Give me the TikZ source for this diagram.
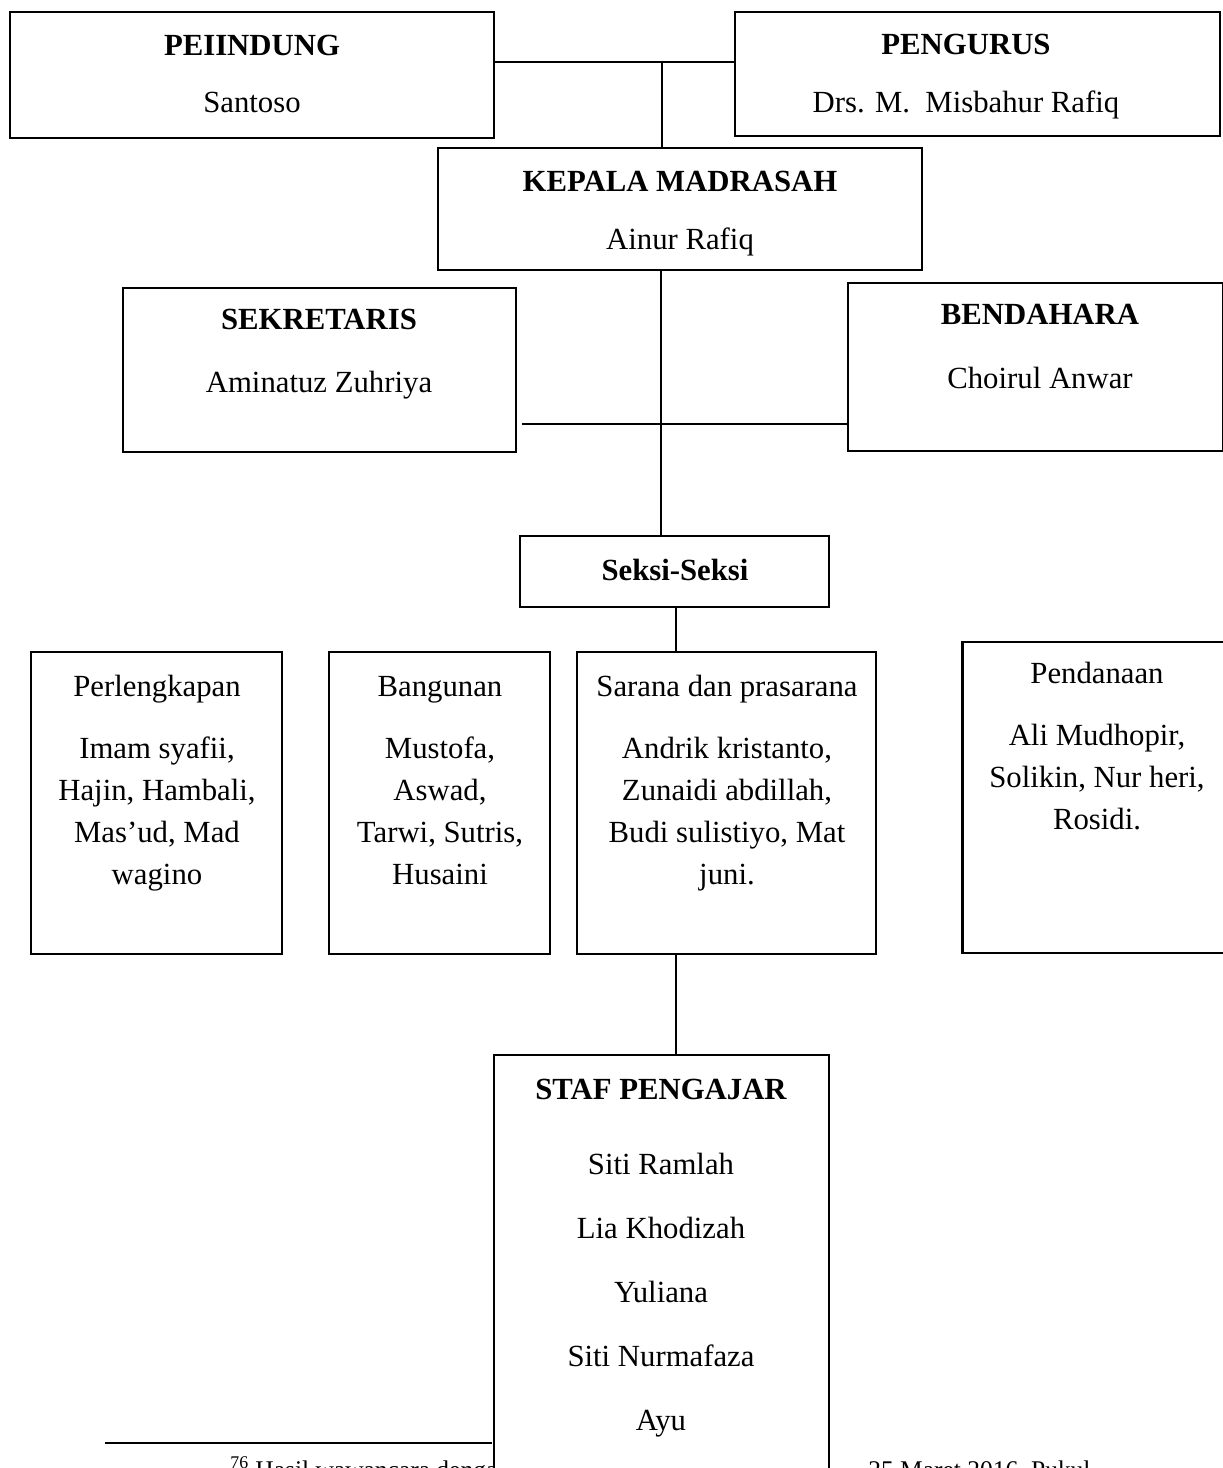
\documentclass[tikz,border=0pt]{standalone}
\usepackage{fontspec}
\setmainfont{Liberation Serif}
\usetikzlibrary{positioning,calc}

\begin{document}
\begin{tikzpicture}[x=0.02cm,y=-0.02cm]

  \tikzset{
    box/.style={draw,line width=1.4pt,fill=white,inner sep=0pt},
    nm/.style={font=\fontsize{17.5}{23.8}\selectfont,align=center,inner sep=0pt,anchor=base},
    hd/.style={nm,font=\fontsize{17.5}{23.8}\selectfont\bfseries},
    ln/.style={line width=0.6pt},
  }

   \clip (0,0) rectangle (1223,1468);

   % FOOTNOTE

   \coordinate (r1) at (105,1443);
   \coordinate (r2) at (492,1443);
   \draw[line width=1pt] (r1) -- (r2);
   \node[nm,anchor=base west,font=\fontsize{14.5}{17}\selectfont] (fn1) at (230,1478)
     {\textsuperscript{76} Hasil wawancara dengan};
   \node[nm,anchor=base west,font=\fontsize{14.5}{17}\selectfont] (fn2) at (868,1478)
     {25 Maret 2016, Pukul};

   % TOP

   \node[box,minimum width=9.68cm,minimum height=2.52cm] (pel) at (252,75) {};
   \node[hd] (pelhd) at (252,55) {PEIINDUNG};
   \node[nm] (pelnm) at (252,112) {Santoso};

   \node[box,minimum width=9.7cm,minimum height=2.48cm] (peng) at (977.5,74) {};
   \node[hd] (penghd) at (966,54) {PENGURUS};
   \node[nm] (pengnm) at (966,112) {Drs. M.\ \ Misbahur Rafiq};

   \node[box,minimum width=9.68cm,minimum height=2.44cm] (kep) at (680,209) {};
   \node[hd] (kephd) at (680,191) {KEPALA MADRASAH};
   \node[nm] (kepnm) at (680,249) {Ainur Rafiq};

   \coordinate (j1) at (662,62);
   \draw[ln] (j1 -| pel.east) -- (j1 -| peng.west);
   \draw[ln] (j1) -- (j1 |- kep.north);

   % SEKRETARIS / BENDAHARA

   \node[box,minimum width=7.86cm,minimum height=3.28cm] (sek) at (319.5,370) {};
   \node[hd] (sekhd) at (319,329) {SEKRETARIS};
   \node[nm] (seknm) at (319,392) {Aminatuz Zuhriya};

   \node[box,minimum width=7.5cm,minimum height=3.36cm] (ben) at (1035.5,367) {};
   \node[hd] (benhd) at (1040,324) {BENDAHARA};
   \node[nm] (bennm) at (1040,388) {Choirul Anwar};

   \node[box,minimum width=6.18cm,minimum height=1.42cm] (seksi) at (674.5,571.5) {};
   \node[hd] (seksihd) at (675,580) {Seksi-Seksi};

   \coordinate (j2) at (661,424);
   \draw[ln] (j2 |- kep.south) -- (j2 |- seksi.north);
   \draw[ln] ($(j2 -| sek.east)+(5,0)$) -- (j2 -| ben.west);

   % SEKSI (base = last line)

   \node[box,minimum width=5.02cm,minimum height=6.04cm] (perl) at (156.5,803) {};
   \node[nm] (perlhd) at (157,696) {Perlengkapan};
   \node[nm] (perlnm) at (157,884) {Imam syafii,\\Hajin, Hambali,\\Mas'ud, Mad\\wagino};

   \node[box,minimum width=4.42cm,minimum height=6.04cm] (bang) at (439.5,803) {};
   \node[nm] (banghd) at (440,696) {Bangunan};
   \node[nm] (bangnm) at (440,884) {Mustofa,\\Aswad,\\Tarwi, Sutris,\\Husaini};

   \node[box,minimum width=5.98cm,minimum height=6.04cm] (sar) at (726.5,803) {};
   \node[nm] (sarhd) at (727,696) {Sarana dan prasarana};
   \node[nm] (sarnm) at (727,884) {Andrik kristanto,\\Zunaidi abdillah,\\Budi sulistiyo, Mat\\juni.};

   \node[box,minimum width=5.3cm,minimum height=6.22cm] (pend) at (1095,797.5) {};
   \node[nm] (pendhd) at (1097,683) {Pendanaan};
   \node[nm] (pendnm) at (1097,829) {Ali Mudhopir,\\Solikin, Nur heri,\\Rosidi.};

   \coordinate (j3) at (676,0);
   \draw[ln] (j3 |- seksi.south) -- (j3 |- sar.north);

   % STAF

   \node[box,minimum width=6.7cm,minimum height=8.9cm] (staf) at (661.5,1277.5) {};
   \node[hd] (stafhd) at (661,1099) {STAF PENGAJAR};
   \node[nm] (staf1) at (661,1174) {Siti Ramlah};
   \node[nm] (staf2) at (661,1238) {Lia Khodizah};
   \node[nm] (staf3) at (661,1302) {Yuliana};
   \node[nm] (staf4) at (661,1366) {Siti Nurmafaza};
   \node[nm] (staf5) at (661,1430) {Ayu};

   \draw[ln] (j3 |- sar.south) -- (j3 |- staf.north);

\end{tikzpicture}
\end{document}
